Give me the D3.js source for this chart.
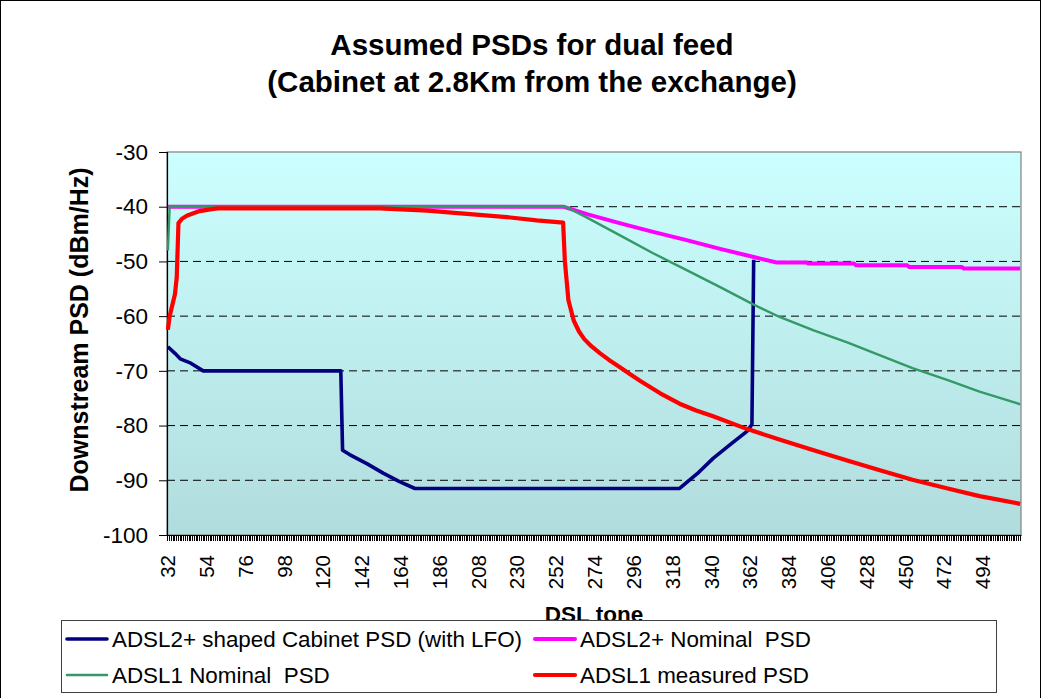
<!DOCTYPE html>
<html>

<head>
  <meta charset="utf-8">
  <style type="text/css">
    body {
      margin: 0;
      background: #fff;
      font-family: "Liberation Sans", Arial, sans-serif;
    }
    text {
      white-space: pre;
    }
  </style>
  <title>Assumed PSDs for dual feed</title>
</head>

<body>
  <script src="https://cdn.jsdelivr.net/npm/d3@7"></script>
  <script>
    // categories: DSL tones on the x axis, a label every 22 tones
    var tones = d3.range(32, 516);
    var labelStep = 22;
    var yTicks = [-100, -90, -80, -70, -60, -50, -40, -30];

    var titleLines = ["Assumed PSDs for dual feed", "(Cabinet at 2.8Km from the exchange)"];

    // [tone, dBm/Hz]
    var cabinetPsd = [
      [32, -65.6], [36, -66.8], [39, -67.8], [45, -68.6], [52, -70], [130, -70],
      [131, -84.5], [135, -85.3], [145, -87], [154, -88.7], [163, -90.2], [172, -91.5],
      [322, -91.5], [332, -88.8], [341, -86], [351, -83.4], [360, -81.1], [363, -79.8],
      [364, -49.7]
    ];
    var adsl2Nominal = [
      [32, -40], [256, -40], [270, -41.4], [288, -43], [307, -44.6], [326, -46.1],
      [345, -47.7], [364, -49.2], [377, -50.2], [394, -50.2], [395, -50.4], [421, -50.4],
      [422, -50.7], [451, -50.7], [452, -51], [482, -51], [483, -51.3], [515, -51.3]
    ];
    var adsl1Nominal = [
      [32, -48], [33, -40], [256, -40], [258, -40.1], [269, -41.9], [288, -45.2],
      [307, -48.5], [326, -51.6], [345, -54.7], [364, -57.9], [379, -60.2], [398, -62.6],
      [417, -64.8], [436, -67.2], [454, -69.5], [474, -71.7], [492, -73.8], [515, -76.1]
    ];
    var adsl1Measured = [
      [32, -62.5], [33, -60], [36, -56], [37, -53], [38, -43], [40, -42.2], [43, -41.6],
      [50, -40.8], [56, -40.5], [60, -40.3], [152, -40.3], [179, -40.7], [205, -41.4],
      [224, -41.9], [241, -42.5], [256, -42.9], [257, -50], [259, -57.1], [262, -60.8],
      [265, -62.8], [268, -64.2], [272, -65.5], [277, -66.8], [282, -68], [288, -69.3],
      [294, -70.6], [300, -71.9], [311, -74.1], [322, -76], [331, -77.2], [341, -78.3],
      [360, -80.6], [379, -82.6], [398, -84.5], [417, -86.4], [436, -88.2],
      [454, -89.9], [474, -91.5], [492, -92.9], [515, -94.3]
    ];

    var series = [
      { name: "ADSL2+ shaped Cabinet PSD (with LFO)", data: cabinetPsd, color: "#000080", width: 3.6 },
      { name: "ADSL2+ Nominal  PSD", data: adsl2Nominal, color: "#ff00ff", width: 4 },
      { name: "ADSL1 Nominal  PSD", data: adsl1Nominal, color: "#339966", width: 2.4 },
      { name: "ADSL1 measured PSD", data: adsl1Measured, color: "#ff0000", width: 4.2 }
    ];

    var W = 1044, H = 698;
    var plot = { left: 167, right: 1021, top: 152, bottom: 535 };

    var svg = d3.select("body").append("svg")
      .attr("width", W)
      .attr("height", H);

    // outer chart frame
    svg.append("rect")
      .attr("x", 0.5).attr("y", 0.5)
      .attr("width", 1040).attr("height", 720)
      .attr("fill", "#fff")
      .attr("stroke", "#000");

    var x = d3.scaleBand()
      .domain(tones)
      .range([plot.left, plot.right])
      .padding(0);
    var bw = x.bandwidth();

    var y = d3.scaleLinear()
      .domain([-100, -30])
      .range([plot.bottom, plot.top]);

    // plot background gradient
    var grad = svg.append("defs").append("linearGradient")
      .attr("id", "bg")
      .attr("x1", 0).attr("y1", 0).attr("x2", 0).attr("y2", 1);
    grad.append("stop").attr("offset", "0%").attr("stop-color", "#ccffff");
    grad.append("stop").attr("offset", "100%").attr("stop-color", "#b1dcdd");

    svg.append("rect")
      .attr("x", plot.left).attr("y", plot.top)
      .attr("width", plot.right - plot.left)
      .attr("height", plot.bottom - plot.top)
      .attr("fill", "url(#bg)")
      .attr("stroke", "#808080")
      .attr("stroke-width", 1.2);

    // dashed gridlines
    svg.append("g")
      .selectAll("line")
      .data(yTicks.filter(d => d > -100 && d < -30))
      .enter().append("line")
      .attr("x1", plot.left).attr("x2", plot.right)
      .attr("y1", d => y(d)).attr("y2", d => y(d))
      .attr("stroke", "#000")
      .attr("stroke-width", 1)
      .attr("stroke-dasharray", "8,5");

    // title
    svg.append("g").selectAll("text")
      .data(titleLines)
      .enter().append("text")
      .attr("x", 532)
      .attr("y", (d, i) => 55 + i * 37)
      .attr("text-anchor", "middle")
      .attr("font-size", "29.5px")
      .attr("font-weight", "bold")
      .text(d => d);

    // y axis (plain hyphen minus like the original)
    var yAxis = d3.axisLeft(y)
      .tickValues(yTicks)
      .tickSize(8)
      .tickPadding(11)
      .tickFormat(d => String(d));

    var gy = svg.append("g")
      .attr("transform", "translate(" + plot.left + ",0)")
      .call(yAxis);
    gy.selectAll("text")
      .attr("font-size", "22.5px")
      .attr("font-family", "Liberation Sans, Arial, sans-serif")
      .attr("fill", "#000");
    gy.select(".domain").attr("stroke", "#000").attr("stroke-width", 1.2);

    // x axis, tick per tone, label every 22 tones
    var xAxis = d3.axisBottom(x)
      .tickValues(tones)
      .tickSize(6)
      .tickSizeOuter(0)
      .tickFormat(d => (d - 32) % labelStep === 0 ? d : "");

    var gx = svg.append("g")
      .attr("transform", "translate(0," + plot.bottom + ")")
      .call(xAxis);
    gx.selectAll(".tick line")
      .attr("stroke", "#000")
      .attr("stroke-width", 1)
      .attr("shape-rendering", "crispEdges");
    gx.select(".domain").attr("stroke", "#000").attr("stroke-width", 1.2);
    gx.selectAll("text")
      .attr("font-size", "20.5px")
      .attr("font-family", "Liberation Sans, Arial, sans-serif")
      .attr("fill", "#000")
      .attr("transform", "rotate(-90)")
      .attr("text-anchor", "end")
      .attr("x", -20)
      .attr("y", 0)
      .attr("dy", "0.35em");

    // axis titles
    svg.append("text")
      .attr("transform", "translate(79,330) rotate(-90)")
      .attr("text-anchor", "middle")
      .attr("dy", "0.35em")
      .attr("font-size", "25px")
      .attr("font-weight", "bold")
      .text("Downstream PSD (dBm/Hz)");

    svg.append("text")
      .attr("x", (plot.left + plot.right) / 2)
      .attr("y", 622)
      .attr("text-anchor", "middle")
      .attr("font-size", "22.5px")
      .attr("font-weight", "bold")
      .text("DSL tone");

    // series lines
    var line = d3.line()
      .x(d => x(d[0]) + bw / 2)
      .y(d => y(d[1]));

    svg.append("g")
      .selectAll("path")
      .data(series)
      .enter().append("path")
      .attr("d", d => line(d.data))
      .attr("fill", "none")
      .attr("stroke", d => d.color)
      .attr("stroke-width", d => d.width)
      .attr("stroke-linejoin", "round");

    // legend
    var legend = svg.append("g");
    legend.append("rect")
      .attr("x", 61.5).attr("y", 620.5)
      .attr("width", 935).attr("height", 72)
      .attr("fill", "#fff")
      .attr("stroke", "#404040");

    var legendPos = [[67, 639], [535, 639], [67, 675], [535, 675]];
    var items = legend.selectAll("g.item")
      .data(series)
      .enter().append("g")
      .attr("class", "item")
      .attr("transform", (d, i) => "translate(" + legendPos[i][0] + "," + legendPos[i][1] + ")");
    items.append("line")
      .attr("x1", 0).attr("x2", 40)
      .attr("stroke", d => d.color)
      .attr("stroke-width", d => Math.max(d.width, 2.6))
      .attr("stroke-linecap", "round");
    items.append("text")
      .attr("x", 45)
      .attr("dy", "0.35em")
      .attr("font-size", "22.4px")
      .text(d => d.name);
  </script>
</body>

</html>
